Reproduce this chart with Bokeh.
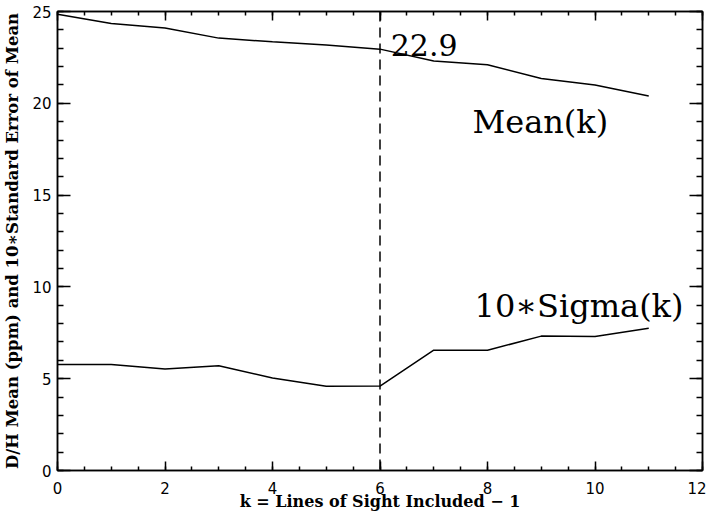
from bokeh.plotting import figure
from bokeh.models import (Range1d, LinearAxis, SingleIntervalTicker, Span, Label,
                          CustomJSTickFormatter)
from bokeh.embed import file_html
from bokeh.resources import INLINE

k = [0, 1, 2, 3, 4, 5, 6, 7, 8, 9, 10, 11]
mean_k = [24.85, 24.35, 24.1, 23.55, 23.35, 23.18, 22.95, 22.3, 22.1, 21.35, 21.0, 20.4]
sigma10_k = [5.78, 5.78, 5.53, 5.71, 5.04, 4.59, 4.6, 6.55, 6.55, 7.32, 7.3, 7.75]
cut_k = 6
cut_label = "22.9"
mean_label = "Mean(k)"
sigma_label = "10∗Sigma(k)"
x_title = "k = Lines of Sight Included − 1"
y_title = "D/H Mean (ppm) and 10∗Standard Error of Mean"

p = figure(frame_width=645, frame_height=459, output_backend="svg", toolbar_location=None,
           x_range=Range1d(0, 12), y_range=Range1d(0, 25),
           min_border_left=50, min_border_right=4, min_border_top=11, min_border_bottom=0)
p.xgrid.visible = False
p.ygrid.visible = False
p.outline_line_color = "black"
p.outline_line_width = 1.5
p.background_fill_color = "white"
p.border_fill_color = "white"

TICK_FONT = "DejaVu Sans"
TITLE_FONT = "DejaVu Serif"

def style_common(ax, labels):
    ax.axis_line_color = "black"
    ax.axis_line_width = 1.5
    ax.major_tick_line_width = 1.5
    ax.minor_tick_line_width = 1.5
    ax.major_tick_line_color = "black"
    ax.minor_tick_line_color = "black"
    ax.major_tick_out = 0
    ax.minor_tick_out = 0
    if labels:
        ax.major_label_text_font = TICK_FONT
        ax.major_label_text_font_size = "15px"
        ax.major_label_text_color = "black"
    else:
        ax.formatter = CustomJSTickFormatter(code="return '';")
        ax.major_label_standoff = 0

def style_x(ax, labels=True):
    ax.ticker = SingleIntervalTicker(interval=2, num_minor_ticks=4)
    ax.major_tick_in = 9
    ax.minor_tick_in = 4
    style_common(ax, labels)
    if labels:
        ax.major_label_standoff = 11

def style_y(ax, labels=True):
    ax.ticker = SingleIntervalTicker(interval=5, num_minor_ticks=5)
    ax.major_tick_in = 13
    ax.minor_tick_in = 6
    style_common(ax, labels)
    if labels:
        ax.major_label_standoff = 6

style_x(p.xaxis[0])
style_y(p.yaxis[0])
p.xaxis[0].axis_label = x_title
p.xaxis[0].axis_label_text_font = TITLE_FONT
p.xaxis[0].axis_label_text_font_size = "16px"
p.xaxis[0].axis_label_text_font_style = "bold"
p.xaxis[0].axis_label_text_color = "black"
p.xaxis[0].axis_label_standoff = -5
p.yaxis[0].axis_label = y_title
p.yaxis[0].axis_label_text_font = TITLE_FONT
p.yaxis[0].axis_label_text_font_size = "16.5px"
p.yaxis[0].axis_label_text_font_style = "bold"
p.yaxis[0].axis_label_text_color = "black"
p.yaxis[0].axis_label_standoff = 7

top = LinearAxis()
style_x(top, labels=False)
p.add_layout(top, "above")
right = LinearAxis()
style_y(right, labels=False)
p.add_layout(right, "right")

p.line(k, mean_k, line_color="black", line_width=1.5)
p.line(k, sigma10_k, line_color="black", line_width=1.5)
p.add_layout(Span(location=cut_k, dimension="height", line_color="black",
                  line_width=1.5, line_dash="10 6"))

p.add_layout(Label(x=6.2, y=23.15, text=cut_label, text_font=TITLE_FONT,
                   text_font_size="30px", text_color="black", text_baseline="alphabetic"))
p.add_layout(Label(x=7.72, y=19.0, text=mean_label, text_font=TITLE_FONT,
                   text_font_size="32px", text_color="black", text_baseline="alphabetic"))
p.add_layout(Label(x=7.76, y=8.95, text=sigma_label, text_font=TITLE_FONT,
                   text_font_size="32px", text_color="black", text_baseline="alphabetic"))

open("out.html", "w").write(file_html(p, INLINE))
